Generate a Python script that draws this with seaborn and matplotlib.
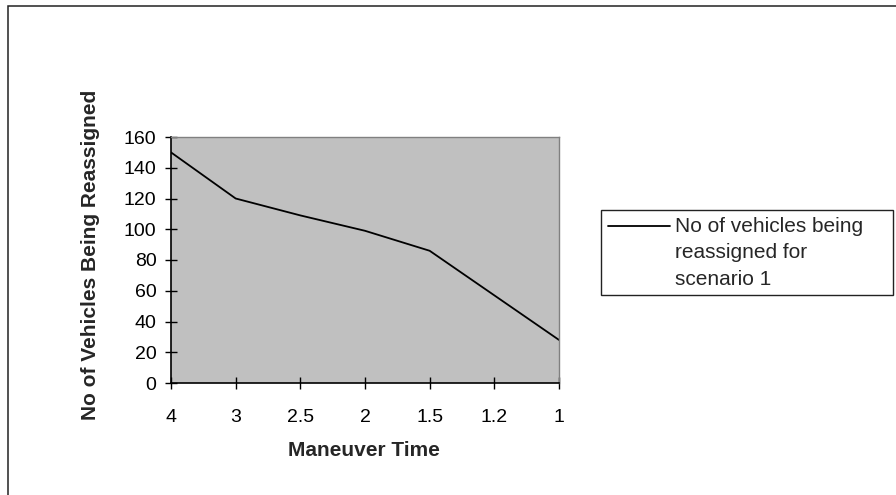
import matplotlib
matplotlib.use("Agg")
import matplotlib.pyplot as plt
import seaborn as sns
import pandas as pd
from matplotlib.patches import Rectangle
from matplotlib.lines import Line2D

# ---- data ----
maneuver_time = ["4", "3", "2.5", "2", "1.5", "1.2", "1"]
vehicles_reassigned = [150, 120, 109, 99, 86, 57, 28]
y_ticks = [0, 20, 40, 60, 80, 100, 120, 140, 160]
series_label = "No of vehicles being\nreassigned for\nscenario 1"
x_title = "Maneuver Time"
y_title = "No of Vehicles Being Reassigned"

sns.set_style("white")
plt.rcParams['font.family'] = ['Liberation Sans', 'DejaVu Sans']

W, H = 896, 495
fig = plt.figure(figsize=(W / 100, H / 100), dpi=100)

def fx(px):
    return px / W

def fy(py):
    return 1 - py / H

# outer chart border (right/bottom edges fall outside the image)
fig.patches.append(Rectangle((fx(8), fy(520)), fx(900), (520 - 6) / H,
                             transform=fig.transFigure, fill=False,
                             edgecolor="#222222", linewidth=1.1))

left, right, top, bottom = 171, 559, 137, 383
ax = fig.add_axes([fx(left), fy(bottom), fx(right - left), (bottom - top) / H])
ax.set_facecolor("#C0C0C0")

df = pd.DataFrame({"pos": range(len(maneuver_time)), "val": vehicles_reassigned})
sns.lineplot(data=df, x="pos", y="val", ax=ax, color="black", linewidth=1.3)

ax.set_xlim(0, len(maneuver_time) - 1)
ax.set_ylim(0, 160)
ax.set_xticks(range(len(maneuver_time)))
ax.set_xticklabels(maneuver_time)
ax.set_yticks(y_ticks)
ax.tick_params(axis="both", direction="inout", length=9, width=1,
               color="black", labelsize=14, labelcolor="black",
               bottom=True, left=True)
ax.tick_params(axis="x", pad=14)
ax.tick_params(axis="y", pad=6)

for s in ["left", "bottom"]:
    ax.spines[s].set_color("black")
    ax.spines[s].set_linewidth(1.2)
for s in ["top", "right"]:
    ax.spines[s].set_color("#808080")
    ax.spines[s].set_linewidth(1.0)

ax.set_xlabel("")
ax.set_ylabel("")
fig.text(fx(364), fy(450), x_title, ha="center", va="center",
         fontsize=15, fontweight="bold")
fig.text(fx(90), fy(255), y_title, ha="center", va="center",
         rotation=90, fontsize=15, fontweight="bold")

# legend box
lx0, ly0, lx1, ly1 = 601, 210, 893, 295
fig.patches.append(Rectangle((fx(lx0), fy(ly1)), fx(lx1 - lx0), (ly1 - ly0) / H,
                             transform=fig.transFigure, fill=False,
                             edgecolor="#222222", linewidth=1.0))
fig.lines.append(Line2D([fx(608), fx(670)], [fy(226), fy(226)],
                        transform=fig.transFigure, color="black", linewidth=1.3))
for i, line in enumerate(series_label.split("\n")):
    fig.text(fx(675), fy(232 + i * 26.5), line, ha="left", va="baseline",
             fontsize=15)

fig.savefig("out.png", dpi=100)
